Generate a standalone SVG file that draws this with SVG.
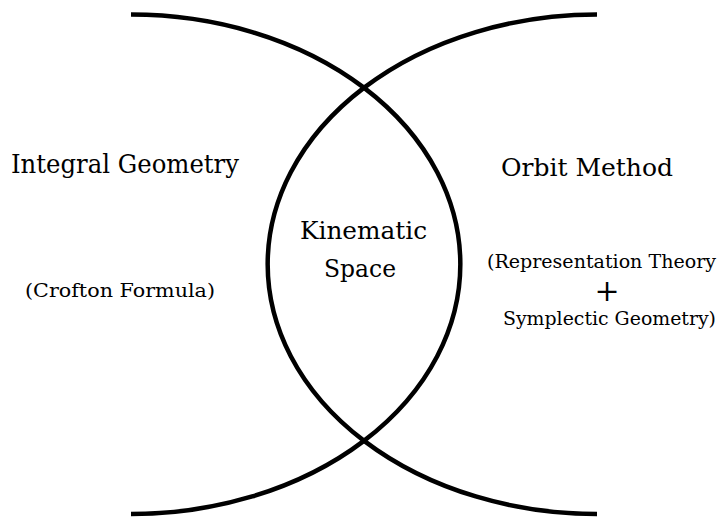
<svg xmlns="http://www.w3.org/2000/svg" width="717" height="517" viewBox="0 0 717 517">
<style>
.arc{fill:none;stroke:#000;stroke-width:4.5}
text{font-family:'DejaVu Serif','Liberation Serif',serif;fill:#000}
</style>
<rect width="717" height="517" fill="#fff"/>
<g id="connectors">
<path class="arc" d="M131,14.5 A329,249.5 0 0 1 131,514"/>
<path class="arc" d="M597,14.5 A329,249.5 0 0 0 597,514"/>
</g>
<g id="integral">
<text x="11" y="173" font-size="26" textLength="228" lengthAdjust="spacingAndGlyphs">Integral Geometry</text>
<text x="25" y="297" font-size="19" textLength="190" lengthAdjust="spacingAndGlyphs">(Crofton Formula)</text>
</g>
<g id="kinematic">
<text x="300" y="239" font-size="24" textLength="127" lengthAdjust="spacingAndGlyphs">Kinematic</text>
<text x="324" y="277" font-size="24" textLength="72" lengthAdjust="spacingAndGlyphs">Space</text>
</g>
<g id="orbit">
<text x="501" y="176" font-size="25" textLength="172" lengthAdjust="spacingAndGlyphs">Orbit Method</text>
<text x="487" y="268" font-size="18" textLength="229" lengthAdjust="spacingAndGlyphs">(Representation Theory</text>
<text x="607" y="301" font-size="30" text-anchor="middle">+</text>
<text x="503" y="325" font-size="18" textLength="213" lengthAdjust="spacingAndGlyphs">Symplectic Geometry)</text>
</g>
</svg>
